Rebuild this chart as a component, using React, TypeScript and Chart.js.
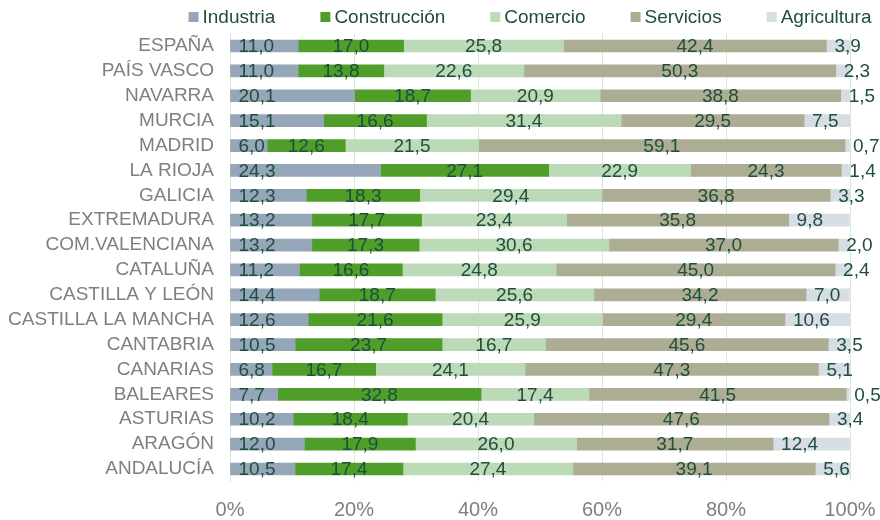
import { useEffect, useRef } from 'react';
import { Chart, registerables } from 'chart.js';

Chart.register(...registerables);

const FONT = '"Liberation Sans", Arial, Helvetica, sans-serif';
const LABEL_COLOR = '#1f4e3c';
const AXIS_COLOR = '#7f7f7f';
const GRID_COLOR = '#d6e9d3';

const categories = [
  'ESPAÑA', 'PAÍS VASCO', 'NAVARRA', 'MURCIA', 'MADRID', 'LA RIOJA', 'GALICIA',
  'EXTREMADURA', 'COM.VALENCIANA', 'CATALUÑA', 'CASTILLA Y LEÓN', 'CASTILLA LA MANCHA',
  'CANTABRIA', 'CANARIAS', 'BALEARES', 'ASTURIAS', 'ARAGÓN', 'ANDALUCÍA',
];

const seriesNames = ['Industria', 'Construcción', 'Comercio', 'Servicios', 'Agricultura'];
const seriesColors = ['#94a6b8', '#4f9e2a', '#bcd9b8', '#adad94', '#d6dde5'];

const industria = [11.0, 11.0, 20.1, 15.1, 6.0, 24.3, 12.3, 13.2, 13.2, 11.2, 14.4, 12.6, 10.5, 6.8, 7.7, 10.2, 12.0, 10.5];
const construccion = [17.0, 13.8, 18.7, 16.6, 12.6, 27.1, 18.3, 17.7, 17.3, 16.6, 18.7, 21.6, 23.7, 16.7, 32.8, 18.4, 17.9, 17.4];
const comercio = [25.8, 22.6, 20.9, 31.4, 21.5, 22.9, 29.4, 23.4, 30.6, 24.8, 25.6, 25.9, 16.7, 24.1, 17.4, 20.4, 26.0, 27.4];
const servicios = [42.4, 50.3, 38.8, 29.5, 59.1, 24.3, 36.8, 35.8, 37.0, 45.0, 34.2, 29.4, 45.6, 47.3, 41.5, 47.6, 31.7, 39.1];
const agricultura = [3.9, 2.3, 1.5, 7.5, 0.7, 1.4, 3.3, 9.8, 2.0, 2.4, 7.0, 10.6, 3.5, 5.1, 0.5, 3.4, 12.4, 5.6];

const xTicks = [0, 20, 40, 60, 80, 100];

const allSeries = [industria, construccion, comercio, servicios, agricultura];
// datasets whose labels sit at the start of the segment (inside base)
const baseAligned = [0, 4];

const segmentLabels = {
  id: 'segmentLabels',
  afterDatasetsDraw(chart: any) {
    const ctx = chart.ctx;
    ctx.save();
    ctx.font = `19px ${FONT}`;
    ctx.fillStyle = LABEL_COLOR;
    ctx.textBaseline = 'middle';
    chart.data.datasets.forEach((ds: any, di: number) => {
      const meta = chart.getDatasetMeta(di);
      meta.data.forEach((el: any, i: number) => {
        const { x, y, base } = el.getProps(['x', 'y', 'base'], true);
        const v = ds.data[i] as number;
        const txt = v.toFixed(1).replace('.', ',');
        if (baseAligned.includes(di)) {
          ctx.textAlign = 'left';
          ctx.fillText(txt, Math.min(x, base) + 8, y + 1);
        } else {
          ctx.textAlign = 'center';
          ctx.fillText(txt, (x + base) / 2, y + 1);
        }
      });
    });
    ctx.restore();
  },
};

const topLegend = {
  id: 'topLegend',
  afterDraw(chart: any) {
    const ctx = chart.ctx;
    ctx.save();
    ctx.font = `19px ${FONT}`;
    ctx.textBaseline = 'middle';
    ctx.textAlign = 'left';
    const box = 10;
    const gap = 4;
    const spacing = 45;
    const items = chart.data.datasets.map((ds: any) => ({
      text: ds.label as string,
      color: ds.backgroundColor as string,
      w: ctx.measureText(ds.label).width,
    }));
    const total = items.reduce((s: number, it: any) => s + box + gap + it.w, 0) + spacing * (items.length - 1);
    let x = 530 - total / 2;
    const cy = 17;
    items.forEach((it: any) => {
      ctx.fillStyle = it.color;
      ctx.fillRect(x, cy - box / 2, box, box);
      ctx.fillStyle = LABEL_COLOR;
      ctx.fillText(it.text, x + box + gap, cy + 1);
      x += box + gap + it.w + spacing;
    });
    ctx.restore();
  },
};

export default function App() {
  const ref = useRef<HTMLCanvasElement>(null);

  useEffect(() => {
    if (!ref.current) return;
    const chart = new Chart(ref.current, {
      type: 'bar',
      data: {
        labels: categories,
        datasets: allSeries.map((data, i) => ({
          label: seriesNames[i],
          data,
          backgroundColor: seriesColors[i],
          borderWidth: 0,
          barThickness: 12,
        })),
      },
      options: {
        indexAxis: 'y',
        responsive: false,
        animation: false,
        layout: { padding: { top: 33.6, right: 30, bottom: 0, left: 0 } },
        plugins: {
          legend: { display: false },
          tooltip: { enabled: false },
        },
        scales: {
          x: {
            stacked: true,
            min: 0,
            max: 100,
            afterBuildTicks: (scale: any) => {
              scale.ticks = xTicks.map((v) => ({ value: v }));
            },
            ticks: {
              callback: (v: any) => `${v}%`,
              color: AXIS_COLOR,
              font: { family: FONT, size: 20 },
              padding: 17,
              maxRotation: 0,
            },
            grid: { color: GRID_COLOR, drawTicks: false, lineWidth: 1 },
            border: { display: false },
            afterFit: (scale: any) => {
              scale.height = 38.6;
              scale.paddingLeft = 0;
              scale.paddingRight = 0;
            },
          },
          y: {
            stacked: true,
            ticks: {
              color: AXIS_COLOR,
              font: { family: FONT, size: 19 },
              padding: 16,
              autoSkip: false,
            },
            grid: { display: false, drawTicks: false },
            border: { display: true, color: GRID_COLOR },
            afterFit: (scale: any) => {
              scale.width = 230;
              scale.paddingTop = 0;
              scale.paddingBottom = 0;
            },
          },
        },
      },
      plugins: [segmentLabels, topLegend],
    });
    return () => chart.destroy();
  }, []);

  return (
    <div style={{ position: 'fixed', left: 0, top: 0, width: 880, height: 520, background: '#ffffff' }}>
      <canvas ref={ref} width={880} height={520} style={{ display: 'block' }} />
    </div>
  );
}
